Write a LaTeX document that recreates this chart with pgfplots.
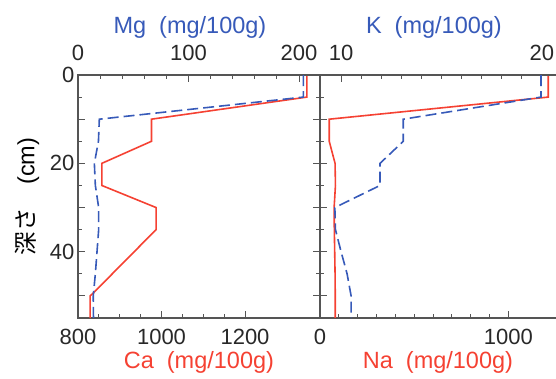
\documentclass[border=0pt]{standalone}
\usepackage{pgfplots}
\pgfplotsset{compat=1.18}
\usepackage{fontspec}
\setmainfont{Liberation Sans}
\newfontfamily\cjk{Noto Sans CJK JP}
\definecolor{myred}{RGB}{245,65,50}
\definecolor{myblue}{RGB}{55,90,185}
\definecolor{axgray}{RGB}{85,85,85}
\definecolor{txt}{RGB}{40,40,40}
\begin{document}
\begin{tikzpicture}[x=1pt,y=1pt]
\pgfplotsset{
  base/.style={scale only axis, height=243pt, ymin=0, ymax=55, y dir=reverse,
    anchor=south west,
    axis line style={axgray, line width=1.2pt},
    every tick/.style={axgray, line width=1pt},
    major tick length=7pt, minor tick length=4pt, tick align=inside,
    ticklabel style={font=\fontsize{22}{24}\selectfont, text=txt},
    label style={font=\fontsize{23.5}{26}\selectfont},
    /pgf/number format/assume math mode=true,
    /pgf/number format/1000 sep={},
    ytick={0,10,...,50}, yticklabels={0,,20,,40,}, minor y tick num=1,
  },
  bot/.style={xticklabel style={yshift=-8pt}, xlabel style={yshift=1pt}},
  top/.style={xticklabel style={yshift=11pt}, xlabel style={yshift=0pt}},
  redl/.style={myred, line width=1.6pt},
  bluel/.style={myblue, line width=1.6pt, dash pattern=on 11pt off 5pt},
}
% ---- left panel, Ca (bottom)
\begin{axis}[base, bot, at={(78pt,60pt)}, width=242pt,
  xmin=800, xmax=1379.6, xtick={800,1000,1200}, minor x tick num=3,
  xtick pos=left, xticklabel pos=left, ytick pos=both, yticklabel pos=left,
  xlabel={\color{myred}Ca\hspace{0.55em}(mg/100g)},
  ylabel={{\cjk 深さ}\hspace{1em}(cm)},
  ylabel style={at={(axis description cs:-0.21,0.5)}, anchor=center},
]
\addplot[redl] coordinates {(1348,0) (1348,5) (976,10) (976,15) (857,20) (857,25) (987,30) (987,35) (836,49.4) (829,50) (829,55)};
\end{axis}
% ---- left panel, Mg (top)
\begin{axis}[base, top, at={(78pt,60pt)}, width=242pt,
  xmin=0, xmax=219, xtick={0,100,200}, minor x tick num=4,
  axis x line*=top, axis y line=none,
  xtick pos=right, xticklabel pos=right,
  xlabel={\color{myblue}Mg\hspace{0.55em}(mg/100g)},
  xlabel style={xshift=-9pt},
]
\addplot[bluel] coordinates {(204,0) (204,5) (19.3,10) (18.5,15) (14.8,20) (15.7,25) (18.7,30) (18.7,35) (17.2,40) (15.7,45) (13.8,50) (14,55)};
\end{axis}
% ---- right panel, Na (bottom)
\begin{axis}[base, bot, at={(320pt,60pt)}, width=236pt,
  xmin=0, xmax=1253, xtick={0,1000}, minor x tick num=9,
  axis x line*=bottom, axis y line*=left,
  xtick pos=left, xticklabel pos=left, ytick pos=left, yticklabels={},
  xlabel={\color{myred}Na\hspace{0.55em}(mg/100g)},
]
\addplot[redl] coordinates {(1212,0) (1212,5) (49,10) (49,15) (80,20) (82,25) (75,30) (76,35) (78,40) (80,45) (81,50) (81,55)};
\end{axis}
% ---- right panel, K (top)
\begin{axis}[base, top, at={(320pt,60pt)}, width=236pt,
  xmin=8.95, xmax=20.71, xtick={10,20}, minor x tick num=9,
  axis x line*=top, axis y line=none,
  xtick pos=right, xticklabel pos=right,
  xlabel={\color{myblue}K\hspace{0.55em}(mg/100g)},
  xlabel style={xshift=-4pt},
]
\addplot[bluel] coordinates {(19.96,0) (19.96,5) (13.1,10) (13.1,15) (11.94,20) (11.94,25) (9.69,30) (9.72,35) (10.0,40) (10.3,45) (10.5,50) (10.5,55)};
\end{axis}
\pgfresetboundingbox
\path[use as bounding box] (0,0) rectangle (556,378);
\end{tikzpicture}
\end{document}
